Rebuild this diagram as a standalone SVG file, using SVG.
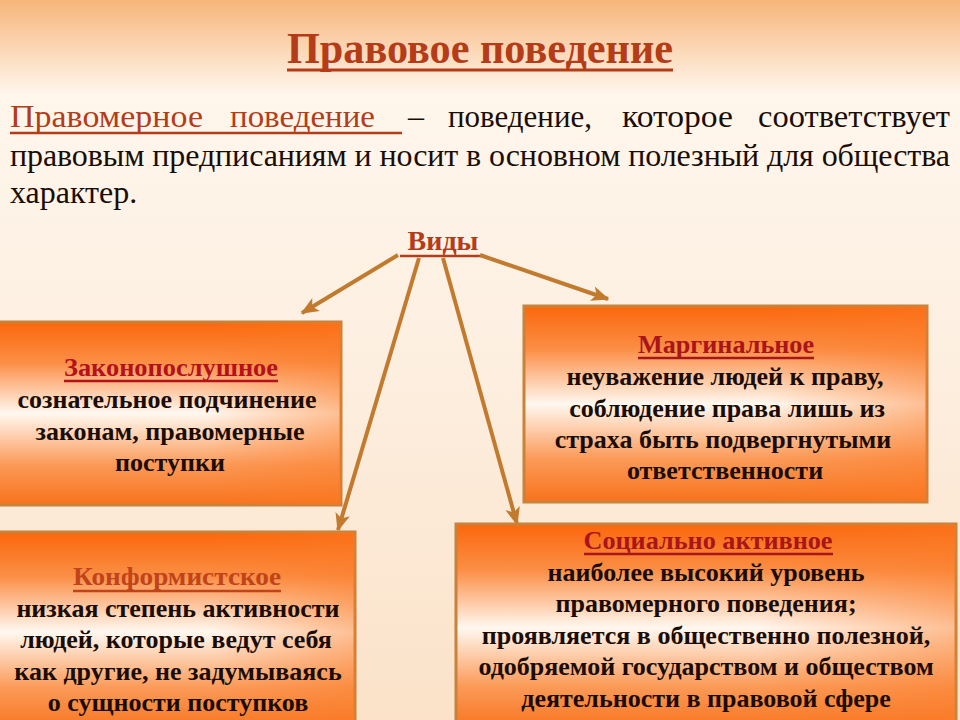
<svg xmlns="http://www.w3.org/2000/svg" width="960" height="720" viewBox="0 0 960 720">
<defs>
  <linearGradient id="bg" x1="0" y1="0" x2="0" y2="1">
    <stop offset="0" stop-color="#f7b57a"/>
    <stop offset="0.13" stop-color="#fff6ec"/>
    <stop offset="0.45" stop-color="#fdf0e2"/>
    <stop offset="1" stop-color="#fbe2c9"/>
  </linearGradient>
  <linearGradient id="boxg" x1="0" y1="0" x2="0" y2="1">
    <stop offset="0" stop-color="#fb670c"/>
    <stop offset="0.22" stop-color="#fb8e45"/>
    <stop offset="0.5" stop-color="#fff8f0"/>
    <stop offset="0.78" stop-color="#fb9a58"/>
    <stop offset="1" stop-color="#f8721c"/>
  </linearGradient>
  <linearGradient id="boxh" x1="0" y1="0" x2="1" y2="0">
    <stop offset="0" stop-color="#fb7a24" stop-opacity="0"/>
    <stop offset="0.6" stop-color="#fb7a24" stop-opacity="0"/>
    <stop offset="1" stop-color="#fb7a24" stop-opacity="0.45"/>
  </linearGradient>
  <marker id="ah" viewBox="0 0 12 10" refX="11" refY="5" markerWidth="4.5" markerHeight="3.8" orient="auto" markerUnits="strokeWidth">
    <path d="M0,0 L12,5 L0,10 L3,5 Z" fill="#c27a2e"/>
  </marker>
  <style>
    text { font-family: Liberation Serif, serif; }
    .box { fill: url(#boxg); stroke: #c8823a; stroke-width: 3; }
    .boxo { fill: url(#boxh); stroke: none; }
    .bt { font-weight: bold; font-size: 26px; fill: #1a0d06; text-anchor: middle; }
    .bh { font-weight: bold; font-size: 26px; text-anchor: middle; }
    .para { font-size: 32px; fill: #1a0d06; }
    .pc { fill: #b53c18; }
    .conn line { stroke: #c27a2e; stroke-width: 4; marker-end: url(#ah); }
  </style>
</defs>

<rect x="0" y="0" width="960" height="720" fill="url(#bg)"/>

<g id="title">
  <text x="287" y="63" textLength="386" lengthAdjust="spacingAndGlyphs" font-family="Liberation Serif, serif" font-weight="bold" font-size="44" fill="#b53c18">Правовое поведение</text>
  <line x1="287" y1="70" x2="673" y2="70" stroke="#b53c18" stroke-width="3"/>
</g>

<g id="definition" font-family="Liberation Serif, serif">
  <text class="para pc" x="10" y="127" textLength="193" lengthAdjust="spacingAndGlyphs">Правомерное</text>
  <text class="para pc" x="230" y="127" textLength="145" lengthAdjust="spacingAndGlyphs">поведение</text>
  <line x1="10" y1="133" x2="402" y2="133" stroke="#b53c18" stroke-width="2.5"/>
  <text class="para" x="408" y="127">–</text>
  <text class="para" x="448" y="127" textLength="144" lengthAdjust="spacingAndGlyphs">поведение,</text>
  <text class="para" x="622" y="127" textLength="111" lengthAdjust="spacingAndGlyphs">которое</text>
  <text class="para" x="758" y="127" textLength="192" lengthAdjust="spacingAndGlyphs">соответствует</text>
  <text class="para" x="10" y="166" textLength="940" lengthAdjust="spacing">правовым предписаниям и носит в основном полезный для общества</text>
  <text class="para" x="10" y="203">характер.</text>
</g>

<g id="vidy">
  <text x="443" y="250" text-anchor="middle" font-family="Liberation Serif, serif" font-weight="bold" font-size="28" fill="#b53c18">Виды</text>
  <line x1="400" y1="256" x2="484" y2="256" stroke="#b53c18" stroke-width="2.5"/>
</g>

<g id="connectors" class="conn">
  <line x1="398" y1="255" x2="302" y2="313"/>
  <line x1="419" y1="258" x2="338" y2="530"/>
  <line x1="443" y1="258" x2="517" y2="524"/>
  <line x1="480" y1="255" x2="608" y2="299"/>
</g>

<g id="node-zakonoposlushnoe" font-family="Liberation Serif, serif">
  <rect class="box" x="-2" y="322" width="343" height="183"/>
  <rect class="boxo" x="-2" y="322" width="343" height="183"/>
  <text class="bh" x="171" y="376" fill="#b3121a" textLength="214" lengthAdjust="spacingAndGlyphs">Законопослушное</text>
  <line x1="64" y1="381" x2="278" y2="381" stroke="#b3121a" stroke-width="2.5"/>
  <text class="bt" x="167" y="408">сознательное подчинение</text>
  <text class="bt" x="170" y="440">законам, правомерные</text>
  <text class="bt" x="170" y="471">поступки</text>
</g>

<g id="node-marginalnoe" font-family="Liberation Serif, serif">
  <rect class="box" x="524" y="306" width="403" height="196"/>
  <rect class="boxo" x="524" y="306" width="403" height="196"/>
  <text class="bh" x="726" y="353" fill="#a8151a" textLength="176" lengthAdjust="spacingAndGlyphs">Маргинальное</text>
  <line x1="638" y1="358" x2="814" y2="358" stroke="#a8151a" stroke-width="2.5"/>
  <text class="bt" x="725" y="385">неуважение людей к праву,</text>
  <text class="bt" x="727" y="417">соблюдение права лишь из</text>
  <text class="bt" x="723" y="448">страха быть подвергнутыми</text>
  <text class="bt" x="725" y="479">ответственности</text>
</g>

<g id="node-konformistskoe" font-family="Liberation Serif, serif">
  <rect class="box" x="-2" y="532" width="357" height="200"/>
  <rect class="boxo" x="-2" y="532" width="357" height="200"/>
  <text class="bh" x="177" y="585" fill="#c0441a" textLength="208" lengthAdjust="spacingAndGlyphs">Конформистское</text>
  <line x1="73" y1="591" x2="281" y2="591" stroke="#c0441a" stroke-width="2.5"/>
  <text class="bt" x="178" y="617">низкая степень активности</text>
  <text class="bt" x="176" y="648">людей, которые ведут себя</text>
  <text class="bt" x="178" y="680">как другие, не задумываясь</text>
  <text class="bt" x="178" y="711">о сущности поступков</text>
</g>

<g id="node-socialno-aktivnoe" font-family="Liberation Serif, serif">
  <rect class="box" x="456" y="524" width="500" height="208"/>
  <rect class="boxo" x="456" y="524" width="500" height="208"/>
  <text class="bh" x="708" y="549" fill="#a8151a" textLength="249" lengthAdjust="spacingAndGlyphs">Социально активное</text>
  <line x1="584" y1="554" x2="833" y2="554" stroke="#a8151a" stroke-width="2.5"/>
  <text class="bt" x="706" y="581">наиболее высокий уровень</text>
  <text class="bt" x="706" y="612">правомерного поведения;</text>
  <text class="bt" x="706" y="644">проявляется в общественно полезной,</text>
  <text class="bt" x="706" y="675">одобряемой государством и обществом</text>
  <text class="bt" x="706" y="707">деятельности в правовой сфере</text>
</g>
</svg>
